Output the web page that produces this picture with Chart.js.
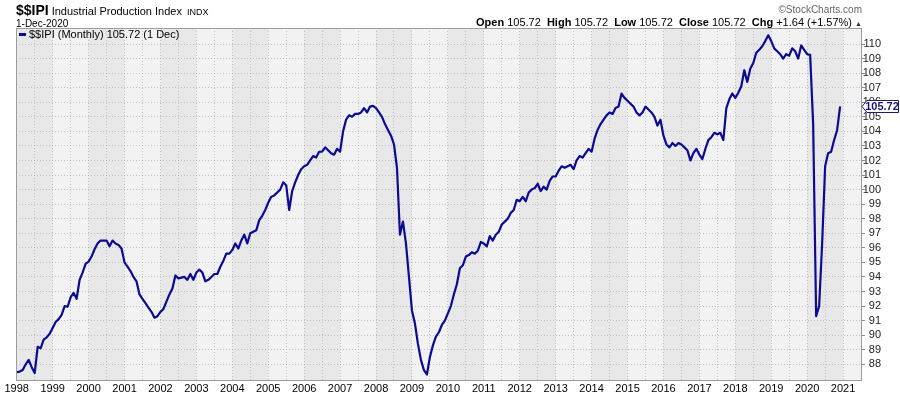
<!DOCTYPE html>
<html>
<head>
<meta charset="utf-8">
<script src="https://cdn.jsdelivr.net/npm/chart.js@4.4.1/dist/chart.umd.min.js"></script>
<style>
  html, body { margin: 0; padding: 0; background: #fff; }
</style>
</head>
<body>
<canvas id="chart" width="900" height="396"></canvas>
<script>
// monthly $$IPI values, Jan..Dec of each year
const firstYear = 1998;
const y1998 = [87.45, 87.5, 87.6, 88.0, 88.3, 87.8, 87.4, 89.2, 89.1, 89.7, 89.85, 90.1];
const y1999 = [90.5, 90.9, 91.1, 91.4, 92.0, 91.95, 92.6, 92.9, 92.5, 93.8, 94.3, 94.9];
const y2000 = [95.05, 95.4, 95.9, 96.3, 96.5, 96.5, 96.5, 96.1, 96.5, 96.3, 96.2, 95.95];
const y2001 = [95.0, 94.7, 94.4, 94.0, 93.7, 92.8, 92.5, 92.2, 91.9, 91.6, 91.2, 91.3];
const y2002 = [91.6, 91.8, 92.3, 92.8, 93.2, 94.1, 93.9, 93.95, 94.0, 93.8, 94.2, 93.8];
const y2003 = [94.3, 94.5, 94.3, 93.7, 93.8, 94.0, 94.2, 94.2, 94.7, 95.1, 95.6, 95.6];
const y2004 = [95.85, 96.3, 95.95, 96.5, 96.9, 96.3, 97.0, 97.1, 97.2, 97.9, 98.2, 98.6];
const y2005 = [99.1, 99.5, 99.6, 99.8, 100.0, 100.5, 100.3, 98.6, 99.9, 100.5, 101.0, 101.4];
const y2006 = [101.6, 101.7, 102.0, 102.3, 102.2, 102.6, 102.6, 102.9, 102.7, 102.5, 102.4, 102.8];
const y2007 = [102.6, 104.0, 104.8, 105.1, 105.0, 105.2, 105.2, 105.3, 105.6, 105.3, 105.7, 105.75];
const y2008 = [105.6, 105.3, 105.0, 104.5, 104.1, 103.7, 103.1, 101.5, 96.9, 97.8, 96.3, 94.0];
const y2009 = [91.7, 90.8, 89.4, 88.3, 87.6, 87.3, 88.5, 89.3, 89.9, 90.2, 90.7, 91.0];
const y2010 = [91.5, 92.0, 92.8, 93.5, 94.6, 94.8, 95.4, 95.5, 95.7, 95.6, 95.8, 96.4];
const y2011 = [96.3, 96.1, 96.8, 96.5, 96.9, 97.1, 97.6, 97.8, 98.0, 98.4, 98.6, 99.3];
const y2012 = [99.2, 99.5, 99.2, 99.8, 100.0, 100.1, 100.4, 99.9, 100.2, 100.0, 100.6, 100.9];
const y2013 = [100.9, 101.3, 101.6, 101.5, 101.6, 101.7, 101.4, 102.0, 102.3, 102.2, 102.5, 102.8];
const y2014 = [102.6, 103.5, 104.1, 104.5, 104.8, 105.1, 105.3, 105.2, 105.6, 105.7, 106.6, 106.3];
const y2015 = [106.1, 105.9, 105.7, 105.3, 105.1, 105.3, 105.7, 105.5, 105.3, 105.0, 104.4, 104.8];
const y2016 = [103.7, 103.1, 102.9, 103.2, 103.0, 103.2, 103.1, 102.9, 102.7, 102.0, 102.5, 102.8];
const y2017 = [102.4, 102.1, 102.8, 103.4, 103.6, 103.9, 103.8, 103.9, 103.4, 105.6, 106.2, 106.6];
const y2018 = [106.3, 106.65, 107.1, 108.2, 107.4, 108.3, 108.7, 109.4, 109.6, 109.85, 110.2, 110.6];
const y2019 = [110.2, 109.7, 109.5, 109.3, 109.0, 109.3, 109.2, 109.7, 109.5, 109.0, 109.9, 109.6];
const y2020 = [109.3, 109.25, 104.5, 91.3, 92.0, 96.3, 101.6, 102.5, 102.6, 103.4, 104.08, 105.72];

const yearLabels = [1998, 1999, 2000, 2001, 2002, 2003, 2004, 2005, 2006, 2007, 2008, 2009,
  2010, 2011, 2012, 2013, 2014, 2015, 2016, 2017, 2018, 2019, 2020, 2021];
const yTicks = [88, 89, 90, 91, 92, 93, 94, 95, 96, 97, 98, 99, 100,
  101, 102, 103, 104, 105, 106, 107, 108, 109, 110];

const ipi = [].concat(y1998, y1999, y2000, y2001, y2002, y2003, y2004, y2005, y2006, y2007,
  y2008, y2009, y2010, y2011, y2012, y2013, y2014, y2015, y2016, y2017, y2018, y2019, y2020);
const points = ipi.map((v, i) => ({ x: firstYear + i / 12, y: v }));
const lastValue = ipi[ipi.length - 1];

// half-year grid positions (labels only on whole years)
const xGrid = [];
yearLabels.forEach(y => { xGrid.push(y); xGrid.push(y + 0.5); });

const FONT = 'Arial, "Liberation Sans", sans-serif';
const NAVY = '#0a0a94';

const bands = {
  id: 'bands',
  beforeDraw(chart) {
    const { ctx, chartArea: a, scales: { x } } = chart;
    ctx.save();
    ctx.fillStyle = '#f2f2f2';
    ctx.fillRect(a.left, a.top, a.width, a.height);
    ctx.beginPath();
    ctx.rect(a.left, a.top, a.width, a.height);
    ctx.clip();
    ctx.fillStyle = '#e8e8e8';
    yearLabels.forEach(yr => {
      if (yr % 2 !== 0) return;
      const x0 = x.getPixelForValue(yr), x1 = x.getPixelForValue(yr + 1);
      ctx.fillRect(x0, a.top, x1 - x0, a.height);
    });
    ctx.restore();
  }
};

function drawRun(ctx, parts, xRight, y) {
  // parts drawn right-aligned as one line
  let w = 0;
  parts.forEach(p => { ctx.font = p.f; w += ctx.measureText(p.t).width; });
  let x = xRight - w;
  parts.forEach(p => {
    ctx.font = p.f;
    ctx.fillStyle = p.c || '#000';
    ctx.fillText(p.t, x, y);
    x += ctx.measureText(p.t).width;
  });
}

const overlay = {
  id: 'overlay',
  afterDraw(chart) {
    const { ctx, chartArea: a, scales: { y } } = chart;
    ctx.save();
    // frame
    ctx.strokeStyle = '#9c9c9c';
    ctx.lineWidth = 1;
    ctx.strokeRect(a.left + 0.5, a.top + 0.5, a.width - 1, a.height);

    ctx.textBaseline = 'alphabetic';
    ctx.textAlign = 'left';
    // title
    ctx.fillStyle = '#000';
    ctx.font = 'bold 14px ' + FONT;
    ctx.fillText('$$IPI', 16, 15);
    let tx = 16 + ctx.measureText('$$IPI').width + 3;
    ctx.font = '11px ' + FONT;
    ctx.fillText('Industrial Production Index', tx, 15);
    tx += ctx.measureText('Industrial Production Index').width + 5;
    ctx.font = '9px ' + FONT;
    ctx.fillText('INDX', tx, 15);
    ctx.font = '10px ' + FONT;
    ctx.fillText('1-Dec-2020', 16, 27);

    // top right
    ctx.font = '10px ' + FONT;
    ctx.fillStyle = '#666';
    ctx.textAlign = 'right';
    ctx.fillText('\u00A9StockCharts.com', 862, 13);
    ctx.textAlign = 'left';
    const B = 'bold 11px ' + FONT, N = '11px ' + FONT;
    drawRun(ctx, [
      { t: 'Open', f: B }, { t: ' 105.72  ', f: N },
      { t: 'High', f: B }, { t: ' 105.72  ', f: N },
      { t: 'Low', f: B }, { t: ' 105.72  ', f: N },
      { t: 'Close', f: B }, { t: ' 105.72  ', f: N },
      { t: 'Chg', f: B }, { t: ' +1.64 (+1.57%) ', f: N },
      { t: '\u25B2', f: '7px ' + FONT, c: '#333' }
    ], 862, 26);

    // legend inside plot
    ctx.fillStyle = NAVY;
    ctx.fillRect(19, 33, 7, 3);
    ctx.fillStyle = '#000';
    ctx.font = '11px ' + FONT;
    ctx.fillText('$$IPI (Monthly) 105.72 (1 Dec)', 29, 38);

    // last value marker on the axis
    const py = Math.round(y.getPixelForValue(lastValue)) + 0.5;
    ctx.beginPath();
    ctx.moveTo(862, py);
    ctx.lineTo(867, py - 6);
    ctx.lineTo(898.5, py - 6);
    ctx.lineTo(898.5, py + 6);
    ctx.lineTo(867, py + 6);
    ctx.closePath();
    ctx.fillStyle = '#fff';
    ctx.fill();
    ctx.strokeStyle = '#1a1a6e';
    ctx.lineWidth = 1;
    ctx.stroke();
    ctx.fillStyle = '#14146e';
    ctx.font = 'bold 11px ' + FONT;
    ctx.textAlign = 'center';
    ctx.textBaseline = 'middle';
    ctx.fillText(lastValue.toFixed(2), 882, py + 0.5);
    ctx.restore();
  }
};

new Chart(document.getElementById('chart'), {
  type: 'line',
  data: {
    datasets: [{
      data: points,
      borderColor: NAVY,
      borderWidth: 2.2,
      pointRadius: 0,
      tension: 0,
      fill: false,
      borderJoinStyle: 'round'
    }]
  },
  options: {
    responsive: false,
    animation: false,
    devicePixelRatio: 1,
    layout: { padding: { left: 16, top: 28, right: 19, bottom: 0 } },
    plugins: { legend: { display: false }, tooltip: { enabled: false } },
    scales: {
      x: {
        type: 'linear',
        min: 1997.98,
        max: 2021.526,
        afterBuildTicks: s => { s.ticks = xGrid.map(v => ({ value: v })); },
        afterFit: s => { s.height = 16; },
        ticks: {
          autoSkip: false,
          maxRotation: 0,
          padding: 2,
          color: '#000',
          font: { family: FONT, size: 11 },
          callback: v => Number.isInteger(v) ? String(v) : ''
        },
        grid: { color: 'rgba(150,150,150,0.5)', drawTicks: false, lineWidth: 1 },
        border: { display: false, dash: [1, 2] }
      },
      y: {
        position: 'right',
        min: 86.92,
        max: 111.1,
        afterBuildTicks: s => { s.ticks = yTicks.map(v => ({ value: v })); },
        afterFit: s => { s.width = 19; },
        ticks: {
          autoSkip: false,
          padding: 0,
          crossAlign: 'far',
          color: '#222',
          font: { family: FONT, size: 11 }
        },
        grid: {
          color: 'rgba(150,150,150,0.5)',
          lineWidth: 1,
          tickLength: 3,
          tickColor: '#8a8a8a',
          tickBorderDash: []
        },
        border: { display: false, dash: [1, 2] }
      }
    }
  },
  plugins: [bands, overlay]
});
</script>
</body>
</html>
